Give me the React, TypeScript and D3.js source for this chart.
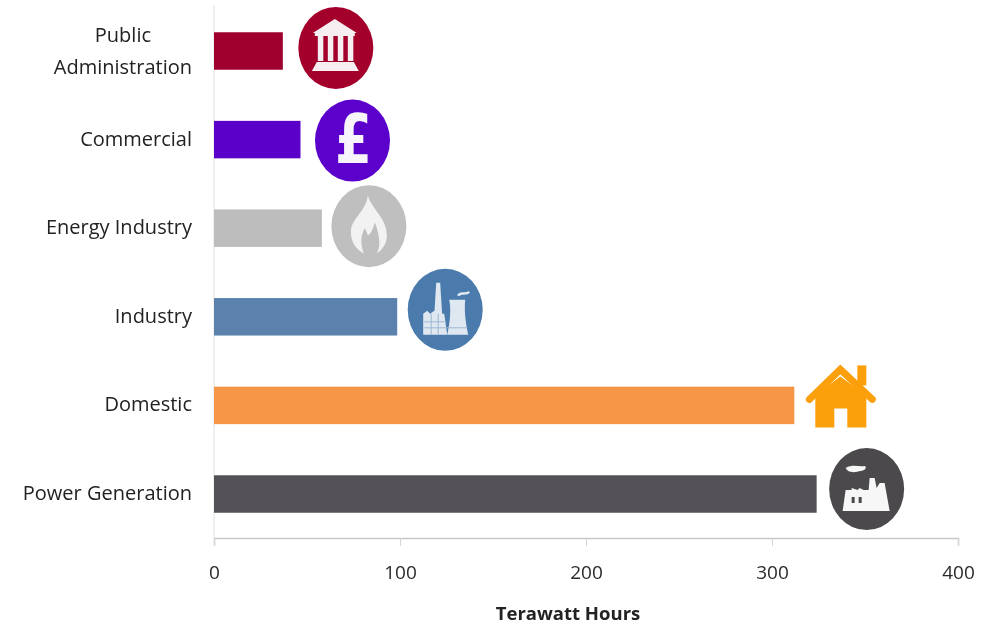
import React, { useEffect, useRef } from "react";
import * as d3 from "d3";

const categories = ["Public Administration", "Commercial", "Energy Industry", "Industry", "Domestic", "Power Generation"];
const values = [37, 46.5, 58, 98.5, 312, 324];
const barColors = ["#a0002e", "#5a00c8", "#bdbdbd", "#5a82ad", "#f79646", "#545256"];
const iconColors = ["#a3002c", "#5c00cc", "#bfbfbf", "#4a7bac", "#fb9f0a", "#4b494c"];
const iconNames = ["bank", "pound", "flame", "plant", "house", "factory"];
const xTicks = [0, 100, 200, 300, 400];

// icon position relative to the bar end
const iconDx = [53, 52, 47, 48, 46, 50];
const iconDy = [-3, 1, -2, -7, -9, -5];

const width = 991;
const height = 628;
const margin = { top: 7, right: 33, bottom: 90, left: 214 };

function drawIcon(g: any, name: string, color: string) {
  if (name !== "house") {
    g.append("ellipse").attr("rx", 37.5).attr("ry", 41).attr("fill", color);
  }
  if (name === "bank") {
    const ink = "#f6eef0";
    g.append("path").attr("fill", ink).attr("d", "M-1,-29L-23,-15L21,-15Z");
    g.append("rect").attr("x", -21).attr("y", -15).attr("width", 40).attr("height", 3).attr("fill", ink);
    [-18, -8, 2, 12].forEach((cx) => {
      g.append("rect").attr("x", cx).attr("y", -12).attr("width", 5.5).attr("height", 25).attr("fill", ink);
    });
    g.append("path").attr("fill", ink).attr("d", "M-19,14L18,14L23,23L-24,23Z");
  }
  if (name === "pound") {
    g.append("text")
      .attr("transform", "translate(1,22) scale(0.78,1)")
      .attr("text-anchor", "middle")
      .attr("font-family", "DejaVu Sans")
      .attr("font-weight", 700)
      .attr("font-size", 68)
      .attr("fill", "#f8f4fc")
      .text("£");
  }
  if (name === "flame") {
    g.append("path")
      .attr("fill", "#f2f2f2")
      .attr("d", "M-1,-31C2,-18 18,-8 18,9C18,18 13,24 8,27C12,20 11,10 6,-4C4,3 2,8 -1,9C-2,6 -3,4 -4,2C-9,10 -8,20 -5,27C-12,24 -18,16 -18,6C-18,-8 -3,-14 -1,-31Z");
  }
  if (name === "plant") {
    const ink = "#dfe8f1";
    g.append("path").attr("fill", ink).attr("d", "M-9,-27L-5,-27L-3,6L-11,6Z");
    g.append("path").attr("fill", ink).attr("d", "M4,-10L20,-10C19,0 20,12 23,25L2,25C5,12 6,0 4,-10Z");
    g.append("path").attr("fill", ink).attr("d", "M-22,4L-18,1L-15,4L-11,1L-8,4L-1,4L2,25L-22,25Z");
    g.append("path").attr("fill", "none").attr("stroke", "#9fb8d2").attr("stroke-width", 1).attr("d", "M-21,12L1,12M-21,18L22,18M-14,4L-14,25M-7,4L-7,25");
    g.append("path").attr("fill", "none").attr("stroke", ink).attr("stroke-width", 2.5).attr("d", "M13,-14C15,-19 20,-14 24,-18");
  }
  if (name === "house") {
    g.append("path").attr("fill", color).attr("d", "M-25,31L-25,-1L0,-20L26,-1L26,31L7,31L7,12L-6,12L-6,31Z");
    g.append("path").attr("fill", "none").attr("stroke", color).attr("stroke-width", 7).attr("stroke-linecap", "round").attr("d", "M-31,3L0,-27L32,3");
    g.append("rect").attr("x", 17).attr("y", -31).attr("width", 9).attr("height", 20).attr("fill", color);
  }
  if (name === "factory") {
    const ink = "#f7f7f7";
    g.append("path").attr("fill", ink).attr("d", "M-24,22L-21,1L-15,1L-15,-1L-9,1L-7,-1L-3,1L2,1L3,-11L8,-11L10,-1L13,-6L18,-6L23,22Z");
    g.append("rect").attr("x", -15).attr("y", 8).attr("width", 3).attr("height", 6).attr("fill", color);
    g.append("rect").attr("x", -8).attr("y", 8).attr("width", 3).attr("height", 6).attr("fill", color);
    g.append("path").attr("fill", ink).attr("d", "M-21,-21C-14,-25 -8,-22 -2,-23C1,-22 -2,-18 -6,-18C-10,-17 -18,-15 -21,-21Z");
  }
}

export default function App() {
  const ref = useRef<SVGSVGElement | null>(null);

  useEffect(() => {
    const svg = d3.select(ref.current);
    svg.selectAll("*").remove();

    const x = d3.scaleLinear().domain([0, 400]).range([margin.left, width - margin.right]);
    const y = d3
      .scaleBand()
      .domain(categories)
      .range([margin.top, height - margin.bottom])
      .paddingInner(0.577)
      .paddingOuter(0.285);
    const font = "'Open Sans', sans-serif";

    svg
      .append("line")
      .attr("x1", margin.left)
      .attr("x2", margin.left)
      .attr("y1", 5)
      .attr("y2", height - margin.bottom)
      .attr("stroke", "#e0e0e0");

    const axis = svg
      .append("g")
      .attr("transform", `translate(0,${height - margin.bottom})`)
      .call(d3.axisBottom(x).tickValues(xTicks).tickSize(8).tickSizeOuter(8).tickPadding(20));
    axis.select(".domain").attr("stroke", "#c8c8c8").attr("stroke-width", 1.5);
    axis.selectAll(".tick line").attr("stroke", "#d4d4d4");
    axis.selectAll(".tick text").attr("font-family", font).attr("font-size", 19).attr("fill", "#2a2a2a");

    svg
      .selectAll(".bar")
      .data(categories)
      .enter()
      .append("rect")
      .attr("class", "bar")
      .attr("x", x(0))
      .attr("y", (d) => y(d) as number)
      .attr("width", (d, i) => x(values[i]) - x(0))
      .attr("height", y.bandwidth())
      .attr("fill", (d, i) => barColors[i]);

    categories.forEach((name, i) => {
      const cy = (y(name) as number) + y.bandwidth() / 2;
      const label = svg
        .append("text")
        .attr("font-family", font)
        .attr("font-size", 20)
        .attr("fill", "#222");
      if (name === "Public Administration") {
        // two lines, centred on each other, flush with the other labels
        const lines = name.split(" ");
        label.attr("text-anchor", "middle");
        const spans = lines.map((t, k) =>
          label.append("tspan").attr("x", 0).attr("y", cy - 9 + k * 32).text(t)
        );
        const w = (spans[1].node() as SVGTextContentElement).getComputedTextLength();
        spans.forEach((s) => s.attr("x", 192 - w / 2));
      } else {
        label.attr("x", 192).attr("y", cy + 6).attr("text-anchor", "end").text(name);
      }

      const icon = svg
        .append("g")
        .attr("transform", `translate(${x(values[i]) + iconDx[i]},${cy + iconDy[i]})`);
      drawIcon(icon, iconNames[i], iconColors[i]);
    });

    svg
      .append("text")
      .attr("x", 568)
      .attr("y", 620)
      .attr("text-anchor", "middle")
      .attr("font-family", font)
      .attr("font-weight", 700)
      .attr("font-size", 18.5)
      .attr("fill", "#222")
      .text("Terawatt Hours");
  }, []);

  return (
    <svg
      ref={ref}
      width={width}
      height={height}
      style={{ position: "absolute", left: 0, top: 0, background: "#fff", filter: "blur(0.6px)" }}
    />
  );
}
